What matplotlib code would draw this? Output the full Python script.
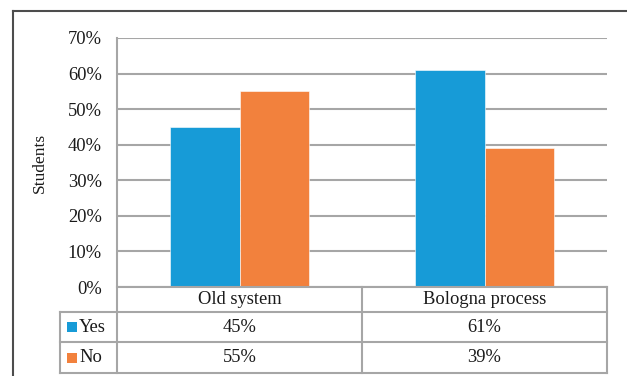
import matplotlib
matplotlib.use("Agg")
import matplotlib.pyplot as plt
from matplotlib.lines import Line2D
from matplotlib.patches import Rectangle
from matplotlib.transforms import blended_transform_factory

# Data
categories = ["Old system", "Bologna process"]
series_names = ["Yes", "No"]
yes_values = [45, 61]
no_values = [55, 39]
y_ticks = [0, 10, 20, 30, 40, 50, 60, 70]
y_label = "Students"

colors = ["#179BD7", "#F2813D"]
grid_color = "#A6A6A6"
text_color = "#1A1A1A"
W, H = 627, 376
FS = 13.3

plt.rcParams["font.family"] = ["Liberation Serif", "DejaVu Serif"]

fig = plt.figure(figsize=(W / 100, H / 100), dpi=100)


def fx(px):
    return px / W


def fy(py):
    return 1 - py / H


left, right, top, bottom = 117, 607, 38, 287
ax = fig.add_axes([fx(left), fy(bottom), fx(right - left), (bottom - top) / H])

bar_w = 0.285
x = range(len(categories))
for offset, vals, c in [(-bar_w / 2, yes_values, colors[0]), (bar_w / 2, no_values, colors[1])]:
    ax.bar([i + offset for i in x], vals, width=bar_w, color=c, zorder=3,
           edgecolor="white", linewidth=0.4)

ax.set_xlim(-0.5, len(categories) - 0.5)
ax.set_ylim(0, 70)
ax.set_yticks(y_ticks)
ax.set_yticklabels([f"{t}%" for t in y_ticks], fontsize=FS, color=text_color)
ax.tick_params(axis="y", length=0, pad=11)
ax.set_xticks([])
ax.yaxis.grid(True, color=grid_color, linewidth=1.5, zorder=0)
for s in ["top", "right", "bottom", "left"]:
    ax.spines[s].set_visible(False)
ax.set_ylabel(y_label, fontsize=12.5, color=text_color)
ax.yaxis.set_label_coords(fx(48 - left) / fx(right - left), 0.5)

# Data table below the plot
blend = blended_transform_factory(ax.transData, fig.transFigure)
row_lines = [287, 312, 342, 373]
leg_left = 60


def hline(x0, x1, y):
    fig.add_artist(Line2D([fx(x0), fx(x1)], [fy(y), fy(y)], color=grid_color,
                          linewidth=1.5, transform=fig.transFigure))


def vline(x, y0, y1):
    fig.add_artist(Line2D([fx(x), fx(x)], [fy(y0), fy(y1)], color=grid_color,
                          linewidth=1.5, transform=fig.transFigure))


hline(left, right, row_lines[0])
for y in row_lines[1:]:
    hline(leg_left, right, y)
vline(left, top, row_lines[-1])
vline(leg_left, row_lines[1], row_lines[-1])
vline(right, row_lines[0], row_lines[-1])
for i in range(1, len(categories)):
    xb = ax.transData.transform((i - 0.5, 0))[0]
    vline(xb, row_lines[0], row_lines[-1])


def row_center(r):
    return fy((row_lines[r] + row_lines[r + 1]) / 2)


for i, cat in enumerate(categories):
    fig.text(i, row_center(0), cat, transform=blend, ha="center", va="center",
             fontsize=FS, color=text_color)
    fig.text(i, row_center(1), f"{yes_values[i]}%", transform=blend, ha="center",
             va="center", fontsize=FS, color=text_color)
    fig.text(i, row_center(2), f"{no_values[i]}%", transform=blend, ha="center",
             va="center", fontsize=FS, color=text_color)

sq = 10
for r, (name, c) in enumerate(zip(series_names, colors)):
    yc = (row_lines[r + 1] + row_lines[r + 2]) / 2
    fig.add_artist(Rectangle((fx(67), fy(yc + sq / 2)), fx(sq), sq / H,
                             facecolor=c, edgecolor="none", transform=fig.transFigure))
    fig.text(fx(79), fy(yc), name, ha="left", va="center", fontsize=FS,
             color=text_color)

# Outer chart frame
fig.add_artist(Line2D([fx(13), fx(13)], [fy(11), 0], color="#4D4D4D", linewidth=1.5,
                      transform=fig.transFigure))
fig.add_artist(Line2D([fx(13), 1], [fy(11), fy(11)], color="#4D4D4D", linewidth=1.5,
                      transform=fig.transFigure))

fig.savefig("out.png", dpi=100)
